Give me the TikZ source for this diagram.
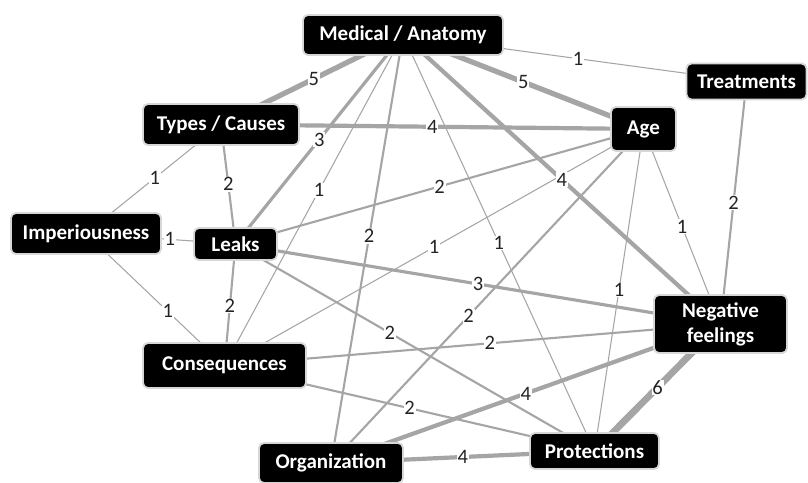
\documentclass[tikz,border=0pt]{standalone}
\usepackage{fontspec}
\setmainfont{Carlito}
\usetikzlibrary{backgrounds}
\definecolor{linkgray}{RGB}{165,165,165}
\definecolor{ringgray}{RGB}{215,215,215}
\definecolor{numgray}{RGB}{35,35,35}
\begin{document}
\begin{tikzpicture}[x=1pt,y=-1pt,
  topic/.style={fill=black, draw=ringgray, line width=1.8pt, rounded corners=5pt,
    text=white, font=\fontsize{21}{22}\selectfont\bfseries, inner sep=0pt, align=center},
  link/.style={draw=linkgray, line width=#1*1.05pt},
  wt/.style={fill=white, inner sep=0.8pt, text=numgray, font=\fontsize{20.5}{20}\selectfont}
]
\useasboundingbox (0,0) rectangle (808,482);

% topics
\node[topic, minimum width=200, minimum height=40] (M)  at (403,35)    {Medical / Anatomy};
\node[topic, minimum width=120, minimum height=36] (T)  at (746.5,81.5) {Treatments};
\node[topic, minimum width=156, minimum height=41] (TC) at (221,124.5) {Types / Causes};
\node[topic, minimum width=65,  minimum height=44] (A)  at (643.5,129) {Age};
\node[topic, minimum width=150, minimum height=41] (I)  at (86,233.5)  {Imperiousness};
\node[topic, minimum width=83,  minimum height=32] (L)  at (235.5,244) {Leaks};
\node[topic, minimum width=133, minimum height=58] (N)  at (720.5,324) {Negative\\[3pt]feelings};
\node[topic, minimum width=163, minimum height=45] (C)  at (224.5,365.5) {Consequences};
\node[topic, minimum width=144, minimum height=40] (O)  at (331,463)   {Organization};
\node[topic, minimum width=129, minimum height=36] (P)  at (594.5,451) {Protections};

% weighted links, behind the topics
\begin{scope}[on background layer]
\fill[white] (0,0) rectangle (808,482);
\draw[link=1] (M.center)  -- node[wt, pos=0.51]{1} (T.center);
\draw[link=2] (T.center)  -- node[wt]{2} (N.center);
\draw[link=1] (M.center)  -- node[wt, pos=0.47]{1} (C.center);
\draw[link=2] (M.center)  -- node[wt, pos=0.47]{2} (O.center);
\draw[link=1] (M.center)  -- node[wt]{1} (P.center);
\draw[link=1] (TC.center) -- node[wt, pos=0.49]{1} (I.center);
\draw[link=2] (TC.center) -- node[wt]{2} (L.center);
\draw[link=1] (I.center)  -- node[wt, pos=0.56]{1} (L.center);
\draw[link=1] (I.center)  -- node[wt, pos=0.59]{1} (C.center);
\draw[link=2] (L.center)  -- node[wt, pos=0.51]{2} (C.center);
\draw[link=2] (L.center)  -- node[wt, pos=0.43]{2} (P.center);
\draw[link=1] (A.center)  -- node[wt]{1} (C.center);
\draw[link=2] (A.center)  -- node[wt, pos=0.56]{2} (O.center);
\draw[link=1] (A.center)  -- node[wt]{1} (P.center);
\draw[link=1] (A.center)  -- node[wt]{1} (N.center);
\draw[link=2] (L.center)  -- node[wt]{2} (A.center);
\draw[link=2] (C.center)  -- node[wt, pos=0.535]{2} (N.center);
\draw[link=2] (C.center)  -- node[wt]{2} (P.center);
\draw[link=3] (M.center)  -- node[wt]{3} (L.center);
\draw[link=3] (L.center)  -- node[wt]{3} (N.center);
\draw[link=4] (TC.center) -- node[wt]{4} (A.center);
\draw[link=4] (M.center)  -- node[wt]{4} (N.center);
\draw[link=4] (O.center)  -- node[wt]{4} (N.center);
\draw[link=4] (O.center)  -- node[wt]{4} (P.center);
\draw[link=5] (M.center)  -- node[wt, pos=0.49]{5} (TC.center);
\draw[link=5] (M.center)  -- node[wt]{5} (A.center);
\draw[link=6.5] (N.center) -- node[wt]{6} (P.center);
\end{scope}
\end{tikzpicture}
\end{document}
